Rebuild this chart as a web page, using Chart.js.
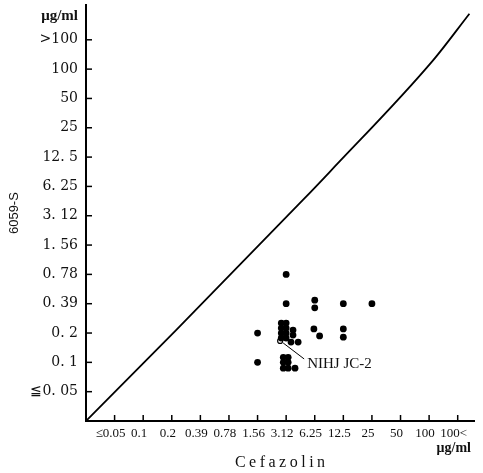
<!DOCTYPE html>
<html>
<head>
<meta charset="utf-8">
<script src="https://cdn.jsdelivr.net/npm/chart.js@4"></script>
<style>
  html, body { margin: 0; padding: 0; background: #fff; }
  #wrap { width: 483px; height: 473px; }
</style>
</head>
<body>
<div id="wrap"><canvas id="micChart" width="483" height="473"></canvas></div>
<script>
// MIC categories (index 0 = lowest dilution)
const xLabels = ['≤0.05', '0.1', '0.2', '0.39', '0.78', '1.56', '3.12', '6.25', '12.5', '25', '50', '100', '100<'];
const yLabels = ['≦0. 05', '0. 1', '0. 2', '0. 39', '0. 78', '1. 56', '3. 12', '6. 25', '12. 5', '25', '50', '100', '>100'];

// clinical strains, position in category index units (overlapping dots are spread a little)
const strainX = [6, 6, 7, 7, 8, 9,
  5, 5.83, 6, 5.83, 6, 6.24, 5.83, 6, 6.24, 5.83, 6, 6.17, 6.42, 6.97, 7.17, 8, 8,
  5, 5.9, 6.07, 5.9, 6.07, 5.9, 6.07, 6.31];
const strainY = [4, 3, 3.12, 2.86, 3, 3,
  2, 2.34, 2.34, 2.17, 2.17, 2.1, 2, 2, 1.93, 1.83, 1.83, 1.69, 1.69, 2.14, 1.9, 2.14, 1.86,
  1, 1.17, 1.17, 1, 1, 0.8, 0.8, 0.8];

// reference strain
const refX = [5.79];
const refY = [1.73];
const refName = 'NIHJ JC-2';

// regression curve
const curveX = [-1, 2.16, 6.58, 7.52, 11.13, 12.41];
const curveY = [-1, 2.11, 6.53, 7.49, 11.29, 12.89];

const pairs = (xs, ys) => xs.map((x, i) => ({ x: x, y: ys[i] }));

const tickFontX = { family: '"Liberation Serif", serif', size: 13 };
const tickFontY = { family: '"DejaVu Serif", serif', size: 14 };

const extras = {
  id: 'extras',
  afterDraw(chart) {
    const ctx = chart.ctx;
    const xs = chart.scales.x, ys = chart.scales.y;
    const area = chart.chartArea;
    ctx.save();
    ctx.strokeStyle = '#000';
    ctx.lineWidth = 1.5;
    // inward tick marks
    xLabels.forEach((_, i) => {
      const px = xs.getPixelForValue(i);
      ctx.beginPath();
      ctx.moveTo(px, area.bottom);
      ctx.lineTo(px, area.bottom - 6);
      ctx.stroke();
    });
    yLabels.forEach((_, i) => {
      const py = ys.getPixelForValue(i);
      ctx.beginPath();
      ctx.moveTo(area.left, py);
      ctx.lineTo(area.left + 6, py);
      ctx.stroke();
    });

    // units
    ctx.fillStyle = '#111';
    ctx.textAlign = 'right';
    ctx.textBaseline = 'alphabetic';
    ctx.font = 'bold 15px "Liberation Serif", serif';
    ctx.fillText('μg/ml', area.left - 8, 20);
    ctx.font = 'bold 14px "Liberation Serif", serif';
    ctx.fillText('μg/ml', 471, 452);

    // x title with letter spacing
    ctx.font = '16px "Liberation Serif", serif';
    ctx.letterSpacing = '3.5px';
    ctx.textAlign = 'left';
    const t = 'Cefazolin';
    const w = ctx.measureText(t).width - 3.5;
    ctx.fillText(t, (area.left + area.right) / 2 - w / 2, 467);
    ctx.letterSpacing = '0px';

    // reference strain label
    const rx = xs.getPixelForValue(refX[0]);
    const ry = ys.getPixelForValue(refY[0]);
    ctx.lineWidth = 1;
    ctx.beginPath();
    ctx.moveTo(rx + 3, ry + 2);
    ctx.lineTo(rx + 24, ry + 18);
    ctx.stroke();
    ctx.font = '15px "Liberation Serif", serif';
    ctx.fillText(refName, rx + 27, ry + 27);
    ctx.restore();
  }
};

new Chart(document.getElementById('micChart'), {
  type: 'scatter',
  data: {
    datasets: [
      {
        label: 'curve',
        data: pairs(curveX, curveY),
        showLine: true,
        borderColor: '#000',
        borderWidth: 1.8,
        pointRadius: 0,
        cubicInterpolationMode: 'monotone',
        fill: false
      },
      {
        label: 'strains',
        data: pairs(strainX, strainY),
        pointRadius: 3.4,
        backgroundColor: '#000',
        borderWidth: 0
      },
      {
        label: refName,
        data: pairs(refX, refY),
        pointRadius: 2.5,
        backgroundColor: '#fff',
        borderColor: '#000',
        borderWidth: 1.2
      }
    ]
  },
  options: {
    responsive: false,
    animation: false,
    layout: { padding: { top: 4, right: 9, left: 0, bottom: 0 } },
    plugins: {
      legend: { display: false },
      tooltip: { enabled: false }
    },
    scales: {
      x: {
        type: 'linear',
        min: -1,
        max: 12.57,
        afterBuildTicks: s => { s.ticks = xLabels.map((_, i) => ({ value: i })); },
        afterFit: s => { s.height = 52; s.paddingLeft = 0; s.paddingRight = 0; },
        grid: { display: false, drawTicks: false },
        border: { display: true, color: '#000', width: 2 },
        ticks: {
          callback: v => (xLabels[v] !== undefined ? xLabels[v] : ''),
          font: tickFontX,
          color: '#111',
          padding: 5,
          labelOffset: -4,
          maxRotation: 0,
          autoSkip: false
        }
      },
      y: {
        type: 'linear',
        min: -1,
        max: 13.18,
        afterBuildTicks: s => { s.ticks = yLabels.map((_, i) => ({ value: i })); },
        afterFit: s => { s.width = 86; s.paddingTop = 0; s.paddingBottom = 0; },
        grid: { display: false, drawTicks: false },
        border: { display: true, color: '#000', width: 2 },
        ticks: {
          callback: v => (yLabels[v] !== undefined ? yLabels[v] : ''),
          font: tickFontY,
          color: '#111',
          padding: 8,
          autoSkip: false
        },
        title: {
          display: true,
          text: '6059-S',
          font: { family: '"Liberation Sans", sans-serif', size: 13 },
          color: '#111',
          padding: { top: 7 }
        }
      }
    }
  },
  plugins: [extras]
});
</script>
</body>
</html>
